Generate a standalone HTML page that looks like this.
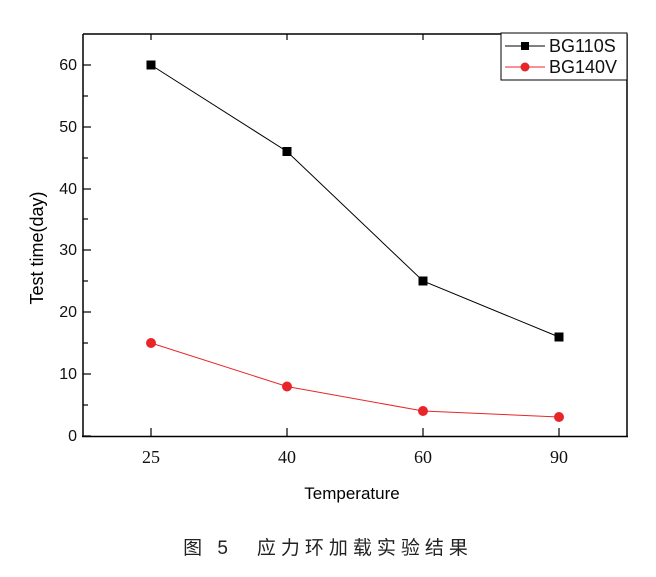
<!DOCTYPE html>
<html><head><meta charset="utf-8"><style>
body{margin:0;background:#fff;}
</style></head><body>
<svg width="656" height="572" xmlns="http://www.w3.org/2000/svg">
<rect width="656" height="572" fill="#fff"/>
<g stroke="#000" stroke-width="1.5" fill="none">
<line x1="83" y1="34" x2="627" y2="34"/>
<line x1="627" y1="34" x2="627" y2="437"/>
<line x1="83" y1="34" x2="83" y2="437"/>
<line x1="82" y1="436.5" x2="628" y2="436.5"/>
</g>
<g stroke="#000" stroke-width="1.2">
<line x1="83" y1="436" x2="91" y2="436"/><line x1="83" y1="405" x2="88" y2="405"/>
<line x1="83" y1="374" x2="91" y2="374"/><line x1="83" y1="343" x2="88" y2="343"/>
<line x1="83" y1="312" x2="91" y2="312"/><line x1="83" y1="281" x2="88" y2="281"/>
<line x1="83" y1="250" x2="91" y2="250"/><line x1="83" y1="219" x2="88" y2="219"/>
<line x1="83" y1="189" x2="91" y2="189"/><line x1="83" y1="158" x2="88" y2="158"/>
<line x1="83" y1="127" x2="91" y2="127"/><line x1="83" y1="96" x2="88" y2="96"/>
<line x1="83" y1="65" x2="91" y2="65"/>
<line x1="151" y1="436" x2="151" y2="428"/><line x1="287" y1="436" x2="287" y2="428"/>
<line x1="423" y1="436" x2="423" y2="428"/><line x1="559" y1="436" x2="559" y2="428"/>
<line x1="151" y1="34" x2="151" y2="40"/><line x1="287" y1="34" x2="287" y2="40"/>
<line x1="423" y1="34" x2="423" y2="40"/><line x1="559" y1="34" x2="559" y2="40"/>
</g>
<g font-family="Liberation Sans, sans-serif" font-size="16" text-anchor="end" fill="#111">
<text x="77" y="441">0</text><text x="77" y="379">10</text><text x="77" y="317">20</text>
<text x="77" y="255">30</text><text x="77" y="194">40</text><text x="77" y="132">50</text><text x="77" y="70">60</text>
</g>
<g font-family="Liberation Serif, serif" font-size="18" text-anchor="middle" fill="#111">
<text x="151" y="463">25</text><text x="287" y="463">40</text><text x="423" y="463">60</text><text x="559" y="463">90</text>
</g>
<text x="352" y="499" font-family="Liberation Sans, sans-serif" font-size="17" text-anchor="middle">Temperature</text>
<text transform="translate(43,248) rotate(-90)" font-family="Liberation Sans, sans-serif" font-size="18" text-anchor="middle">Test time(day)</text>
<polyline points="151,65 287,151.5 423,281 559,337" fill="none" stroke="#000" stroke-width="1"/>
<g fill="#000"><rect x="146.5" y="60.5" width="9" height="9"/><rect x="282.5" y="147" width="9" height="9"/><rect x="418.5" y="276.5" width="9" height="9"/><rect x="554.5" y="332.5" width="9" height="9"/></g>
<polyline points="151,343 287,386.5 423,411 559,417" fill="none" stroke="#e8262a" stroke-width="1"/>
<g fill="#e8262a"><circle cx="151" cy="343" r="5"/><circle cx="287" cy="386.5" r="5"/><circle cx="423" cy="411" r="5"/><circle cx="559" cy="417" r="5"/></g>
<rect x="501" y="33" width="126" height="47" fill="#fff" stroke="#000" stroke-width="1"/>
<line x1="505" y1="46" x2="545" y2="46" stroke="#000"/><rect x="521" y="42" width="8" height="8"/>
<line x1="505" y1="67" x2="545" y2="67" stroke="#e8262a"/><circle cx="525" cy="67" r="4.5" fill="#e8262a"/>
<g font-family="Liberation Sans, sans-serif" font-size="18" fill="#111">
<text x="549" y="52">BG110S</text><text x="549" y="73">BG140V</text>
</g>
<text x="328" y="554" font-family="Liberation Sans, 'Noto Sans CJK SC', sans-serif" font-size="19" text-anchor="middle" letter-spacing="5" fill="#222">图 5　应力环加载实验结果</text>
</svg>
</body></html>
